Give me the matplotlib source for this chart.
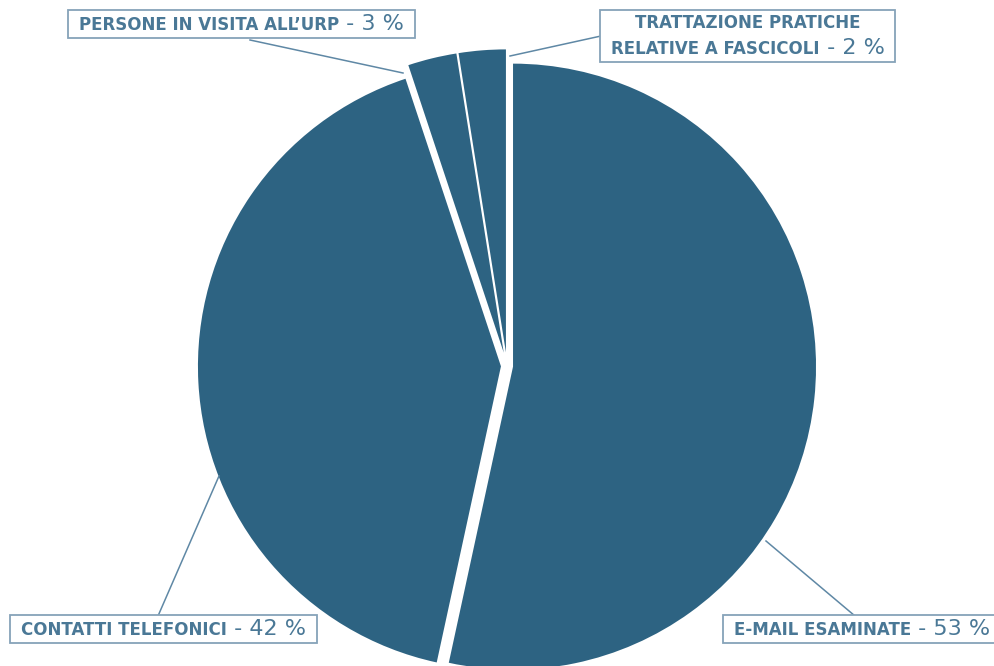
import matplotlib
matplotlib.use('Agg')
from matplotlib import pyplot as plt
from matplotlib.offsetbox import TextArea, HPacker, VPacker, DrawingArea, AnnotationBbox

# dati (percentuali)
categorie = ['E-mail esaminate', 'Contatti telefonici',
             "Persone in visita all’URP", 'Trattazione pratiche relative a fascicoli']
valori = [53.4, 41.5, 2.6, 2.5]
etichette = [['E-MAIL ESAMINATE'], ['CONTATTI TELEFONICI'],
             ['PERSONE IN VISITA ALL’URP'], ['TRATTAZIONE PRATICHE', 'RELATIVE A FASCICOLI']]
percentuali = ['53 %', '42 %', '3 %', '2 %']

# stile
COL_FETTA = '#2d6382'
COL_TESTO = '#4a7896'
COL_BORDO = '#86a3b9'
COL_LINEA = '#5f88a5'
FONT = 'DejaVu Sans'
FS = 12
FS_NUM = 16

# geometria del riferimento in pixel
W, H = 995, 666
CX, CY, R = 507, 366, 303


def px(x, y):
    # pixel del riferimento -> coordinate dati (centro torta = 0,0, raggio 1)
    return (x - CX) / R, (CY - y) / R


# posizione box (angolo in alto a sinistra), punto d'attacco sul box, punto sulla torta
box_pos = [(724, 616), (11, 616), (69, 11), (601, 11)]
linea_box = [(855, 616), (158, 616), (250, 40), (601, 36)]
linea_torta = [(766, 541), (219, 476), (403, 73), (510, 56)]
esplodi = [0.02, 0.02, 0.045, 0.045]

fig = plt.figure(figsize=(W / 100, H / 100), dpi=100)
ax = fig.add_axes([0, 0, 1, 1])

ax.pie(valori, colors=[COL_FETTA] * len(valori), startangle=90, counterclock=False,
       explode=esplodi, wedgeprops=dict(linewidth=0))
ax.set_aspect('equal')
ax.set_xlim(-CX / R, (W - CX) / R)
ax.set_ylim(-(H - CY) / R, CY / R)
ax.axis('off')


def make_box(righe, pct):
    rows = []
    for i, riga in enumerate(righe):
        parti = [TextArea(riga, textprops=dict(fontsize=FS, color=COL_TESTO, family=FONT,
                                                fontweight='bold'))]
        if i == len(righe) - 1:
            parti.append(TextArea(' - ' + pct, textprops=dict(fontsize=FS_NUM, color=COL_TESTO,
                                                             family=FONT)))
        rows.append(HPacker(children=parti, align='baseline', pad=0, sep=0))
    body = VPacker(children=rows, align='center', pad=0, sep=4)
    return HPacker(children=[DrawingArea(5, 1), body, DrawingArea(5, 1)],
                   align='center', pad=0, sep=0)


PAD = 0.22
pad_px = PAD * 10 * 100 / 72

for i in range(len(valori)):
    # linea di richiamo
    x0, y0 = px(*linea_torta[i])
    x1, y1 = px(*linea_box[i])
    ax.plot([x0, x1], [y0, y1], color=COL_LINEA, lw=1.1, zorder=3)

    bx, by = box_pos[i]
    ab = AnnotationBbox(make_box(etichette[i], percentuali[i]),
                        px(bx + pad_px, by + pad_px), xycoords='data',
                        box_alignment=(0, 1), frameon=True, pad=PAD,
                        bboxprops=dict(edgecolor=COL_BORDO, facecolor='white',
                                       linewidth=1.3, boxstyle='square'),
                        zorder=4)
    ax.add_artist(ab)

fig.savefig('out.png', dpi=100)
